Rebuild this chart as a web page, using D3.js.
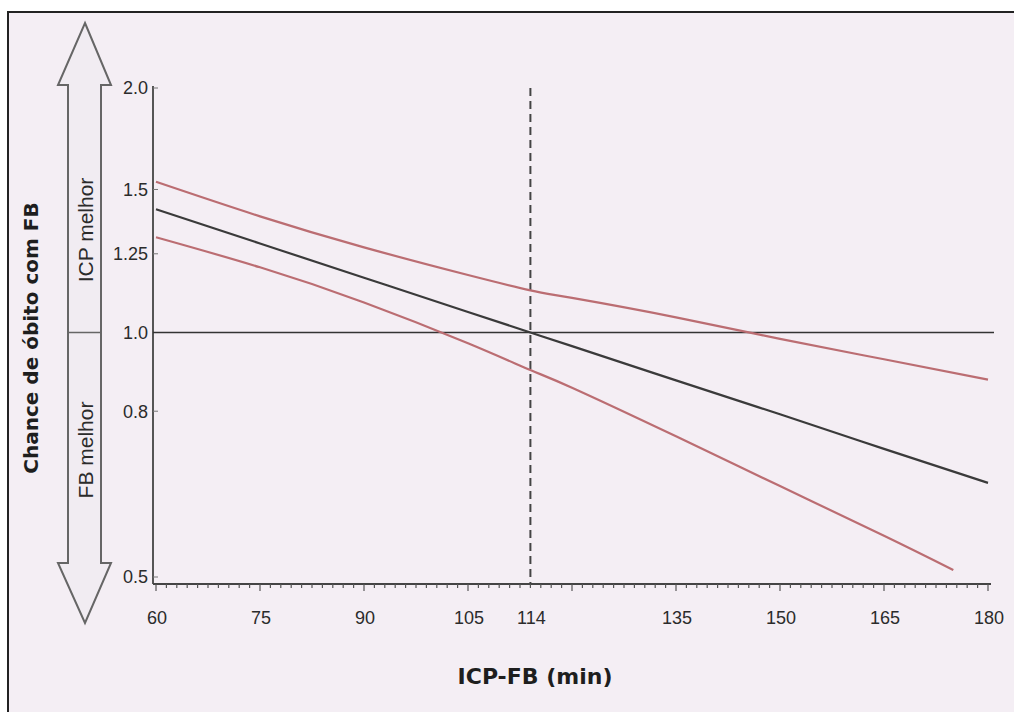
<!DOCTYPE html>
<html lang="pt">
<head>
<meta charset="utf-8">
<title>Chance de óbito com FB</title>
<script src="https://cdnjs.cloudflare.com/ajax/libs/d3/7.8.5/d3.min.js"></script>
<style>
  body { margin: 0; background: #ffffff; }
  text { font-family: "Liberation Sans", Arial, sans-serif; fill: #2b2b2b; }
  .title { font-family: "DejaVu Sans", Verdana, sans-serif; font-weight: bold; fill: #1e1e1e; }
</style>
</head>
<body>
<svg id="chart" width="1014" height="712"></svg>
<script>
// x values (minutes) and odds ratio
const minutes = [60, 75, 90, 105, 114, 120, 135, 150, 165, 180];
const oddsMid = [1.418, 1.287, 1.168, 1.060, 1.0, 0.962, 0.873, 0.793, 0.719, 0.653];
const upperCI = [1.533, 1.390, 1.273, 1.177, 1.127, 1.103, 1.044, 0.982, 0.927, 0.875];
const lowerMinutes = [60, 75, 90, 105, 114, 120, 135, 150, 165, 175];
const lowerCI = [1.310, 1.203, 1.089, 0.970, 0.899, 0.855, 0.745, 0.647, 0.562, 0.510];

const xTickValues = [60, 75, 90, 105, 114, 135, 150, 165, 180];
const yTickValues = [0.5, 0.8, 1.0, 1.25, 1.5, 2.0];
const yTickLabels = ["0.5", "0.8", "1.0", "1.25", "1.5", "2.0"];

const svg = d3.select("#chart");

// frame (runs off the right and bottom edges)
svg.append("rect")
  .attr("x", 8).attr("y", 12)
  .attr("width", 1100).attr("height", 800)
  .attr("fill", "#f4eef4")
  .attr("stroke", "#222").attr("stroke-width", 2);

const x = d3.scaleLinear().domain([60, 180]).range([156, 988]);
const y = d3.scaleLog().domain([0.5, 2.0]).range([577, 88]);
const axisY = 584, axisX = 153;

// y axis line
svg.append("line")
  .attr("x1", axisX).attr("x2", axisX)
  .attr("y1", 86).attr("y2", axisY)
  .attr("stroke", "#555").attr("stroke-width", 2);

// y ticks + labels
const yt = svg.append("g");
yTickValues.forEach((v, i) => {
  yt.append("line")
    .attr("x1", axisX).attr("x2", axisX + 5)
    .attr("y1", y(v)).attr("y2", y(v))
    .attr("stroke", "#777").attr("stroke-width", 1);
  yt.append("text")
    .attr("x", axisX - 5).attr("y", y(v))
    .attr("dy", "0.36em")
    .attr("text-anchor", "end")
    .attr("font-size", 18)
    .text(yTickLabels[i]);
});

// x axis line
svg.append("line")
  .attr("x1", axisX).attr("x2", 991)
  .attr("y1", axisY).attr("y2", axisY)
  .attr("stroke", "#444").attr("stroke-width", 2);

// minor ticks every 1.5 min
const minor = d3.range(0, 81).map(i => 60 + i * 1.5);
svg.append("g").selectAll("line")
  .data(minor)
  .enter().append("line")
  .attr("x1", d => x(d)).attr("x2", d => x(d))
  .attr("y1", axisY).attr("y2", d => (d % 15 === 0 ? axisY + 7 : axisY + 4))
  .attr("stroke", "#555").attr("stroke-width", 1.2);

svg.append("g").selectAll("text")
  .data(xTickValues)
  .enter().append("text")
  .attr("x", d => x(d) + 1).attr("y", 624)
  .attr("text-anchor", "middle")
  .attr("font-size", 18)
  .text(d => d);

// reference lines
svg.append("line")
  .attr("x1", axisX).attr("x2", 994)
  .attr("y1", y(1)).attr("y2", y(1))
  .attr("stroke", "#333").attr("stroke-width", 1.5);

svg.append("line")
  .attr("x1", x(114)).attr("x2", x(114))
  .attr("y1", 88).attr("y2", axisY)
  .attr("stroke", "#444").attr("stroke-width", 2)
  .attr("stroke-dasharray", "8,5");

// curves
const line = d3.line().curve(d3.curveNatural);
const mk = (xs, ys) => xs.map((m, i) => [x(m), y(ys[i])]);

svg.append("path")
  .attr("d", line(mk(minutes, upperCI)))
  .attr("fill", "none").attr("stroke", "#bb6d72").attr("stroke-width", 2.2);
svg.append("path")
  .attr("d", line(mk(lowerMinutes, lowerCI)))
  .attr("fill", "none").attr("stroke", "#bb6d72").attr("stroke-width", 2.2);
svg.append("path")
  .attr("d", line(mk(minutes, oddsMid)))
  .attr("fill", "none").attr("stroke", "#3a3a3a").attr("stroke-width", 2.2);

// double arrow on the left
const cx = 85, sL = 68, sR = 101, hL = 58, hR = 111;
const arrow = [
  [cx, 23], [hR, 85], [sR, 85], [sR, 563], [hR, 563], [cx, 623],
  [hL, 563], [sL, 563], [sL, 85], [hL, 85]
];
svg.append("path")
  .attr("d", d3.line()(arrow) + "Z")
  .attr("fill", "#f1ecf2")
  .attr("stroke", "#666").attr("stroke-width", 2);
svg.append("line")
  .attr("x1", sL).attr("x2", sR)
  .attr("y1", y(1)).attr("y2", y(1))
  .attr("stroke", "#666").attr("stroke-width", 1.5);

svg.append("text")
  .attr("transform", "translate(93,230) rotate(-90)")
  .attr("text-anchor", "middle")
  .attr("font-size", 21)
  .attr("fill", "#444")
  .text("ICP melhor");
svg.append("text")
  .attr("transform", "translate(93,450) rotate(-90)")
  .attr("text-anchor", "middle")
  .attr("font-size", 21)
  .attr("fill", "#444")
  .text("FB melhor");

// axis titles
svg.append("text")
  .attr("class", "title")
  .attr("transform", "translate(38,338) rotate(-90)")
  .attr("text-anchor", "middle")
  .attr("font-size", 20)
  .text("Chance de óbito com FB");

svg.append("text")
  .attr("class", "title")
  .attr("x", 535).attr("y", 684)
  .attr("text-anchor", "middle")
  .attr("font-size", 22)
  .text("ICP-FB (min)");
</script>
</body>
</html>
